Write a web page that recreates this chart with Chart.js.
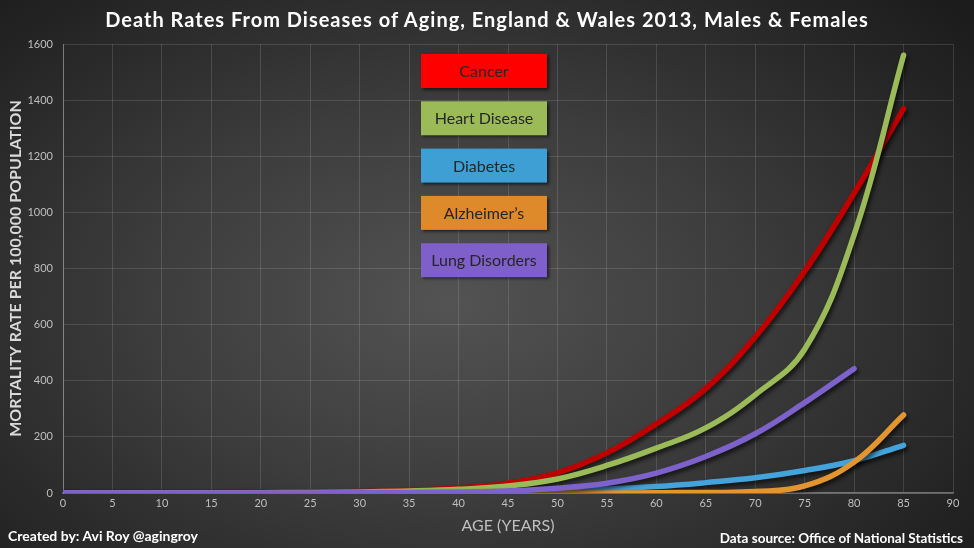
<!DOCTYPE html>
<html>
<head>
<meta charset="utf-8">
<script src="https://cdn.jsdelivr.net/npm/chart.js@4.4.1/dist/chart.umd.min.js"></script>
<style>
  html, body { margin: 0; padding: 0; }
  body { width: 974px; height: 548px; overflow: hidden;
         background: radial-gradient(ellipse 70% 80% at 46% 55%, #535353 0%, #3c3c3c 45%, #242424 85%, #1c1c1c 100%); }
  #wrap { position: relative; width: 974px; height: 548px; }
  canvas { position: absolute; left: 0; top: 0; }
  .txt { position: absolute; color: #ffffff; font-family: Lato, "Open Sans", sans-serif; font-weight: bold; white-space: nowrap; }
  #title { left: 0; width: 974px; text-align: center; top: 7px; font-size: 20px; letter-spacing: 1px; }
  #left { left: 8px; top: 527px; font-size: 14px; }
  #right { right: 11px; top: 530px; font-size: 13.5px; }
</style>
</head>
<body>
<div id="wrap">
  <canvas id="c" width="974" height="548"></canvas>
  <div class="txt" id="title">Death Rates From Diseases of Aging, England &amp; Wales 2013, Males &amp; Females</div>
  <div class="txt" id="left">Created by: Avi Roy @agingroy</div>
  <div class="txt" id="right">Data source: Office of National Statistics</div>
</div>
<script>
const ages = [0, 5, 10, 15, 20, 25, 30, 35, 40, 45, 50, 55, 60, 65, 70, 75, 80, 85];
const cancer      = [1, 1, 1, 1, 2, 3, 5, 9, 18, 35, 72, 143, 246, 372, 556, 790, 1068, 1370];
const heart       = [1, 0, 0, 0, 1, 2, 4, 7, 13, 25, 50, 98, 160, 232, 350, 512, 920, 1560];
const diabetes    = [0, 0, 0, 0, 0, 0, 1, 1, 2, 4, 8, 14, 23, 37, 54, 80, 115, 170];
const alzheimers  = [0, 0, 0, 0, 0, 0, 0, 0, 0, 0, 0, 0, 1, 2, 5, 25, 110, 278];
const lung        = [1, 0, 0, 0, 0, 0, 1, 1, 3, 7, 17, 35, 71, 130, 211, 322, 443, null];
const seriesNames = ["Cancer", "Heart Disease", "Diabetes", "Alzheimer\u2019s", "Lung Disorders"];
const yTicks = [0, 200, 400, 600, 800, 1000, 1200, 1400, 1600];
const xTicks = [0, 5, 10, 15, 20, 25, 30, 35, 40, 45, 50, 55, 60, 65, 70, 75, 80, 85, 90];

const lineColors = ["#c00000", "#9bbb59", "#43a3da", "#e39530", "#7e62cc"];
const boxColors  = ["#ff0000", "#9bbb59", "#3e9fd4", "#de8a2a", "#7f5fc9"];
const allValues = [cancer, heart, diabetes, alzheimers, lung];

const datasets = allValues.map((vals, i) => ({
  label: seriesNames[i],
  data: ages.map((a, j) => ({ x: a, y: vals[j] })),
  borderColor: lineColors[i],
  backgroundColor: boxColors[i],
  borderWidth: 5.5,
  borderCapStyle: 'round',
  borderJoinStyle: 'round',
  pointRadius: 0,
  tension: 0.4,
  spanGaps: false,
  order: allValues.length - 1 - i
}));

const shadowPlugin = {
  id: 'lineShadow',
  beforeDatasetDraw(chart) {
    const ctx = chart.ctx;
    ctx.save();
    ctx.shadowColor = 'rgba(0,0,0,0.65)';
    ctx.shadowBlur = 4;
    ctx.shadowOffsetX = 2;
    ctx.shadowOffsetY = 3;
  },
  afterDatasetDraw(chart) {
    chart.ctx.restore();
  }
};

const boxLegend = {
  id: 'boxLegend',
  afterDraw(chart) {
    const ctx = chart.ctx;
    const area = chart.chartArea;
    const left = area.left + 358, w = 126, h = 34, top0 = area.top + 10, step = 47.3;
    chart.data.datasets.forEach((ds, i) => {
      const y = top0 + i * step;
      ctx.save();
      ctx.shadowColor = 'rgba(0,0,0,0.6)';
      ctx.shadowBlur = 3;
      ctx.shadowOffsetX = 2;
      ctx.shadowOffsetY = 2;
      ctx.fillStyle = ds.backgroundColor;
      ctx.fillRect(left, y, w, h);
      ctx.restore();
      ctx.save();
      ctx.fillStyle = '#262626';
      ctx.font = '16px Lato, "Open Sans", sans-serif';
      ctx.textAlign = 'center';
      ctx.textBaseline = 'middle';
      ctx.fillText(ds.label, left + w / 2, y + h / 2 + 1);
      ctx.restore();
    });
  }
};

new Chart(document.getElementById('c'), {
  type: 'line',
  data: { datasets },
  plugins: [shadowPlugin, boxLegend],
  options: {
    responsive: false,
    animation: false,
    devicePixelRatio: 1,
    layout: { padding: { left: 4, right: 21, top: 44, bottom: 0 } },
    plugins: {
      legend: { display: false },
      tooltip: { enabled: false },
      title: { display: false }
    },
    scales: {
      x: {
        type: 'linear',
        min: 0, max: 90,
        afterBuildTicks(scale) { scale.ticks = xTicks.map(v => ({ value: v })); },
        afterFit(scale) { scale.height = 55; },
        grid: { color: 'rgba(255,255,255,0.13)', lineWidth: 1, drawTicks: false },
        border: { color: 'rgba(255,255,255,0.35)', width: 1.5 },
        ticks: { color: '#bfbfbf', font: { family: 'Lato, "Open Sans", sans-serif', size: 11 }, padding: 4, maxRotation: 0, autoSkip: false },
        title: { display: true, text: 'AGE (YEARS)', color: '#bfbfbf', font: { family: 'Lato, "Open Sans", sans-serif', size: 16 }, padding: { top: 4, bottom: 13 } }
      },
      y: {
        min: 0, max: 1600,
        afterBuildTicks(scale) { scale.ticks = yTicks.map(v => ({ value: v })); },
        afterFit(scale) { scale.width = 59; },
        grid: { color: 'rgba(255,255,255,0.13)', lineWidth: 1, drawTicks: false },
        border: { color: 'rgba(255,255,255,0.3)', width: 1 },
        ticks: { color: '#bfbfbf', font: { family: 'Lato, "Open Sans", sans-serif', size: 11 }, padding: 10, callback: v => String(v) },
        title: { display: true, text: 'MORTALITY RATE PER 100,000 POPULATION', color: '#d9d9d9', font: { family: 'Lato, "Open Sans", sans-serif', size: 16, weight: 'bold' }, padding: { top: 2, bottom: 0 } }
      }
    }
  }
});
</script>
</body>
</html>
